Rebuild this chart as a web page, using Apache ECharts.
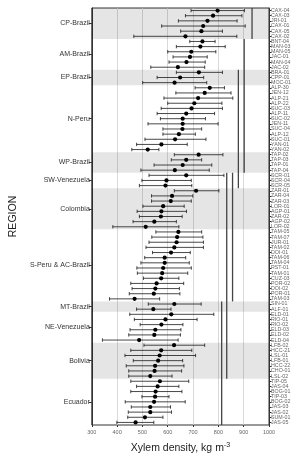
<!DOCTYPE html>
<html>
<head>
<meta charset="utf-8">
<script src="https://cdn.jsdelivr.net/npm/echarts@6/dist/echarts.min.js"></script>
<style>
  html, body { margin: 0; padding: 0; background: #fff; }
  #chart { width: 301px; height: 459px; }
</style>
</head>
<body>
<div id="chart"></div>
<script>
  // sites, top to bottom
  var sites = [
    'CAX-04','CAX-03','JRI-01','CAX-01','CAX-05','CAX-02',
    'BNT-04','MAN-03','MAN-05','JAC-01','MAN-04','JAC-02',
    'BRA-01','CPP-01','MOC-01',
    'ALP-30','JEN-12','ALP-21','ALP-22','SUC-03','ALP-11','SUC-02','JEN-11','SUC-04','ALP-12','SUC-01','YAN-01','YAN-02',
    'TAP-02','TAP-03','TAP-01','TAP-04',
    'SCR-01','SCR-04','SCR-05',
    'ZAR-01','ZAR-04','ZAR-03','LOR-01','AGP-01','ZAR-02','AGP-02','LOR-02',
    'TAM-05','TAM-07','JUR-01','TAM-02','DOI-01','TAM-06','TAM-04','RST-01','TAM-01','CUZ-03','POR-02','DOI-02','POR-01','TAM-03',
    'SIN-01','ALF-01',
    'ELD-01','RIO-01','RIO-02','ELD-03','ELD-02','ELD-04',
    'LFB-02','HCC-21','LSL-01','LFB-01','HCC-22','CHO-01','LSL-02',
    'TIP-05','JAS-04','BOG-01','TIP-03','BOG-02','JAS-03','JAS-02','SUM-01','JAS-05'
  ];
  var means = [
    797, 779, 757, 740, 733, 670,
    737, 729, 693, 688, 674, 640,
    723, 649, 627,
    766, 746, 720, 705, 694, 673, 659, 659, 658, 644, 629, 575, 521,
    722, 673, 659, 628,
    673, 595, 591,
    712, 617, 612, 582, 575, 573, 547, 513,
    642, 637, 635, 626, 613, 588, 588, 582, 578, 574, 556, 551, 545, 469,
    626, 543,
    614, 591, 575, 551, 547, 487,
    625, 574, 568, 562, 550, 548, 531,
    569, 560, 552, 550, 546, 531, 531, 510, 473
  ];
  var lows = [
    692, 670, 642, 576, 651, 466,
    687, 634, 600, 621, 605, 533,
    634, 558, 501,
    708, 632, 585, 600, 574, 558, 571, 522, 581, 581, 510, 477, 458,
    626, 614, 546, 494,
    526, 498, 488,
    626, 536, 536, 502, 479, 488, 463, 383,
    553, 537, 526, 514, 540, 509, 494, 478, 480, 504, 454, 459, 448, 370,
    523, 477,
    450, 468, 491, 451, 446, 342,
    506, 454, 431, 464, 436, 446, 446,
    454, 477, 454, 498, 432, 456, 444, 442, 399
  ];
  var highs = [
    903, 893, 874, 906, 816, 873,
    787, 827, 790, 756, 748, 746,
    816, 742, 754,
    824, 850, 857, 814, 816, 785, 749, 799, 734, 709, 751, 677, 565,
    818, 734, 774, 764,
    822, 693, 695,
    802, 699, 693, 665, 674, 657, 634, 644,
    734, 739, 741, 741, 689, 671, 685, 693, 679, 644, 663, 646, 648, 568,
    732, 613,
    782, 716, 660, 652, 650, 641,
    746, 695, 710, 659, 664, 655, 617,
    683, 644, 656, 605, 669, 611, 615, 581, 545
  ];

  var regions = ['CP-Brazil','AM-Brazil','EP-Brazil','N-Peru','WP-Brazil','SW-Venezuela','Colombia',
                 'S-Peru & AC-Brazil','MT-Brazil','NE-Venezuela','Bolivia','Ecuador'];
  var regionSizes = [6, 6, 3, 13, 4, 3, 8, 14, 2, 6, 7, 9];

  // homogeneous groups (vertical lines): density, first site row, last site row
  var groupX = [933, 902, 879, 856, 833, 813];
  var groupFrom = [0, 6, 12, 32, 32, 57];
  var groupTo = [5, 31, 34, 56, 71, 80];

  var xTicks = [300, 400, 500, 600, 700, 800, 900, 1000];

  // region labels on a half-row axis, grey bands on every other region
  var regionAxis = [];
  for (var k = 0; k <= sites.length * 2; k++) regionAxis.push('');
  var bands = [];
  var start = 0;
  regions.forEach(function (r, i) {
    var end = start + regionSizes[i] - 1;
    regionAxis[start + end + 1] = r;
    if (i % 2 === 0) bands.push([xTicks[0], start, end]);
    start = end + 1;
  });

  var barData = sites.map(function (s, i) {
    return [means[i], i, lows[i], highs[i]];
  });
  var lineData = groupX.map(function (x, i) {
    return [x, groupFrom[i], groupTo[i]];
  });

  function renderBand(params, api) {
    var h = api.size([0, 1])[1];
    var top = api.coord([api.value(0), api.value(1)])[1] - h / 2;
    var bot = api.coord([api.value(0), api.value(2)])[1] + h / 2;
    var cs = params.coordSys;
    return {
      type: 'rect',
      shape: { x: cs.x, y: top, width: cs.width, height: bot - top },
      style: { fill: 'rgba(0,0,0,0.1)' },
      silent: true
    };
  }

  function renderGroupLine(params, api) {
    var h = api.size([0, 1])[1];
    var p1 = api.coord([api.value(0), api.value(1)]);
    var p2 = api.coord([api.value(0), api.value(2)]);
    return {
      type: 'line',
      shape: { x1: p1[0], y1: p1[1] - h / 2, x2: p2[0], y2: p2[1] + h / 2 },
      style: { stroke: '#444', lineWidth: 1.3 }
    };
  }

  function renderBar(params, api) {
    var row = api.value(1);
    var pm = api.coord([api.value(0), row]);
    var pl = api.coord([api.value(2), row]);
    var ph = api.coord([api.value(3), row]);
    var cap = 1.7;
    var st = { stroke: '#1a1a1a', lineWidth: 0.8 };
    return {
      type: 'group',
      children: [
        { type: 'line', shape: { x1: pl[0], y1: pm[1], x2: ph[0], y2: pm[1] }, style: st },
        { type: 'line', shape: { x1: pl[0], y1: pm[1] - cap, x2: pl[0], y2: pm[1] + cap }, style: st },
        { type: 'line', shape: { x1: ph[0], y1: pm[1] - cap, x2: ph[0], y2: pm[1] + cap }, style: st },
        { type: 'circle', shape: { cx: pm[0], cy: pm[1], r: 2.1 }, style: { fill: '#000' } }
      ]
    };
  }

  var myChart = echarts.init(document.getElementById('chart'));
  var option = {
    animation: false,
    grid: {
      left: 68, right: 32, top: 8, bottom: 31,
      show: true, borderColor: '#333', borderWidth: 1
    },
    xAxis: {
      type: 'value',
      min: 300, max: 1000, interval: 100,
      axisLine: { lineStyle: { color: '#333' } },
      axisTick: { show: true, length: 2, lineStyle: { color: '#333' } },
      axisLabel: {
        fontSize: 5.5, color: '#666', margin: 4, fontFamily: 'Liberation Sans',
        formatter: function (v) { return String(v); }
      },
      splitLine: { show: true, lineStyle: { color: '#cfcfcf', width: 0.8 } },
      name: '{a|Xylem density, kg m}{b|-3}',
      nameLocation: 'middle',
      nameGap: 17,
      nameTextStyle: {
        rich: {
          a: { fontSize: 10.5, color: '#222', fontFamily: 'Liberation Sans' },
          b: { fontSize: 7, color: '#222', fontFamily: 'Liberation Sans', verticalAlign: 'top', padding: [0, 0, 6, 0] }
        }
      }
    },
    yAxis: [
      {
        type: 'category',
        data: sites,
        inverse: true,
        position: 'right',
        axisLine: { lineStyle: { color: '#333' } },
        axisTick: { show: true, alignWithLabel: true, interval: 0, length: 2.5, lineStyle: { color: '#333' } },
        axisLabel: { interval: 0, fontSize: 5.3, color: '#666', margin: 2, fontFamily: 'Liberation Sans' },
        splitLine: { show: false }
      },
      {
        type: 'category',
        data: regionAxis,
        boundaryGap: false,
        inverse: true,
        position: 'left',
        axisLine: { lineStyle: { color: '#333' } },
        axisTick: {
          show: true, length: 3, lineStyle: { color: '#333' },
          interval: function (i, v) { return v !== ''; }
        },
        axisLabel: { interval: 0, fontSize: 7, color: '#333', margin: 2, fontFamily: 'Liberation Sans' },
        splitLine: { show: false },
        name: 'REGION',
        nameLocation: 'middle',
        nameRotate: 90,
        nameGap: 58,
        nameTextStyle: { fontSize: 10.5, color: '#222', fontFamily: 'Liberation Sans' }
      }
    ],
    series: [
      {
        type: 'custom',
        renderItem: renderBand,
        data: bands,
        encode: { x: 0, y: [1, 2] },
        z: 1
      },
      {
        type: 'custom',
        renderItem: renderGroupLine,
        data: lineData,
        encode: { x: 0, y: [1, 2] },
        z: 2
      },
      {
        type: 'custom',
        renderItem: renderBar,
        data: barData,
        encode: { x: [0, 2, 3], y: 1 },
        z: 3
      }
    ]
  };
  myChart.setOption(option);
</script>
</body>
</html>
